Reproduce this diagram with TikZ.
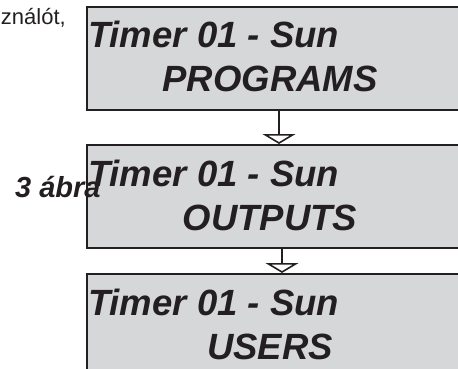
\documentclass[tikz,border=0pt]{standalone}
\usepackage{fontspec}
\setmainfont{Liberation Sans}
\usetikzlibrary{positioning, calc, arrows.meta}
\definecolor{panelgray}{RGB}{214,215,217}
\definecolor{inkgray}{RGB}{35,31,32}

\begin{document}
\begin{tikzpicture}[x=1pt, y=-1pt,
    panel/.style={rectangle, draw=inkgray, line width=2pt, fill=panelgray, minimum width=384pt, minimum height=103pt, anchor=north west, inner sep=0pt},
    title/.style={font=\fontsize{36.5}{42}\selectfont\bfseries\itshape, text=inkgray, inner sep=0pt},
    flow/.style={-{Triangle[open, width=33pt, length=10pt]}, line width=1.6pt, draw=inkgray},
    note/.style={font=\fontsize{22}{26}\selectfont, text=inkgray, inner sep=0pt}
]
\useasboundingbox (0,0) rectangle (458,369);

% --- kijelzők ---
\node[panel] (prog) at (86,6) {};
\node[panel] (outp) at (86,144) {};
\node[panel, minimum height=110pt] (users) at (86,273) {};

% --- feliratok ---
\node[title, anchor=base west] (prog1) at ($(prog.north west)+(2,42)$) {Timer 01 - Sun};
\node[title, anchor=base] (prog2) at ($(prog.north west)+(184,86)$) {PROGRAMS};
\node[title, anchor=base west] (outp1) at ($(outp.north west)+(2,42)$) {Timer 01 - Sun};
\node[title, anchor=base] (outp2) at ($(outp.north west)+(184,86)$) {OUTPUTS};
\node[title, anchor=base west] (users1) at ($(users.north west)+(2,42)$) {Timer 01 - Sun};
\node[title, anchor=base] (users2) at ($(users.north west)+(184,86)$) {USERS};

% --- nyilak ---
\draw[flow] (prog.south) -- (outp.north);
\draw[flow] ([xshift=3pt]outp.south) -- ([xshift=3pt]users.north);

% --- szöveg ---
\node[note, anchor=base east] (cont) at (66,25) {ználót,};
\node[title, font=\fontsize{29}{34}\selectfont\bfseries\itshape, anchor=base west] (fig) at (15,197) {3 ábra};

\end{tikzpicture}
\end{document}
